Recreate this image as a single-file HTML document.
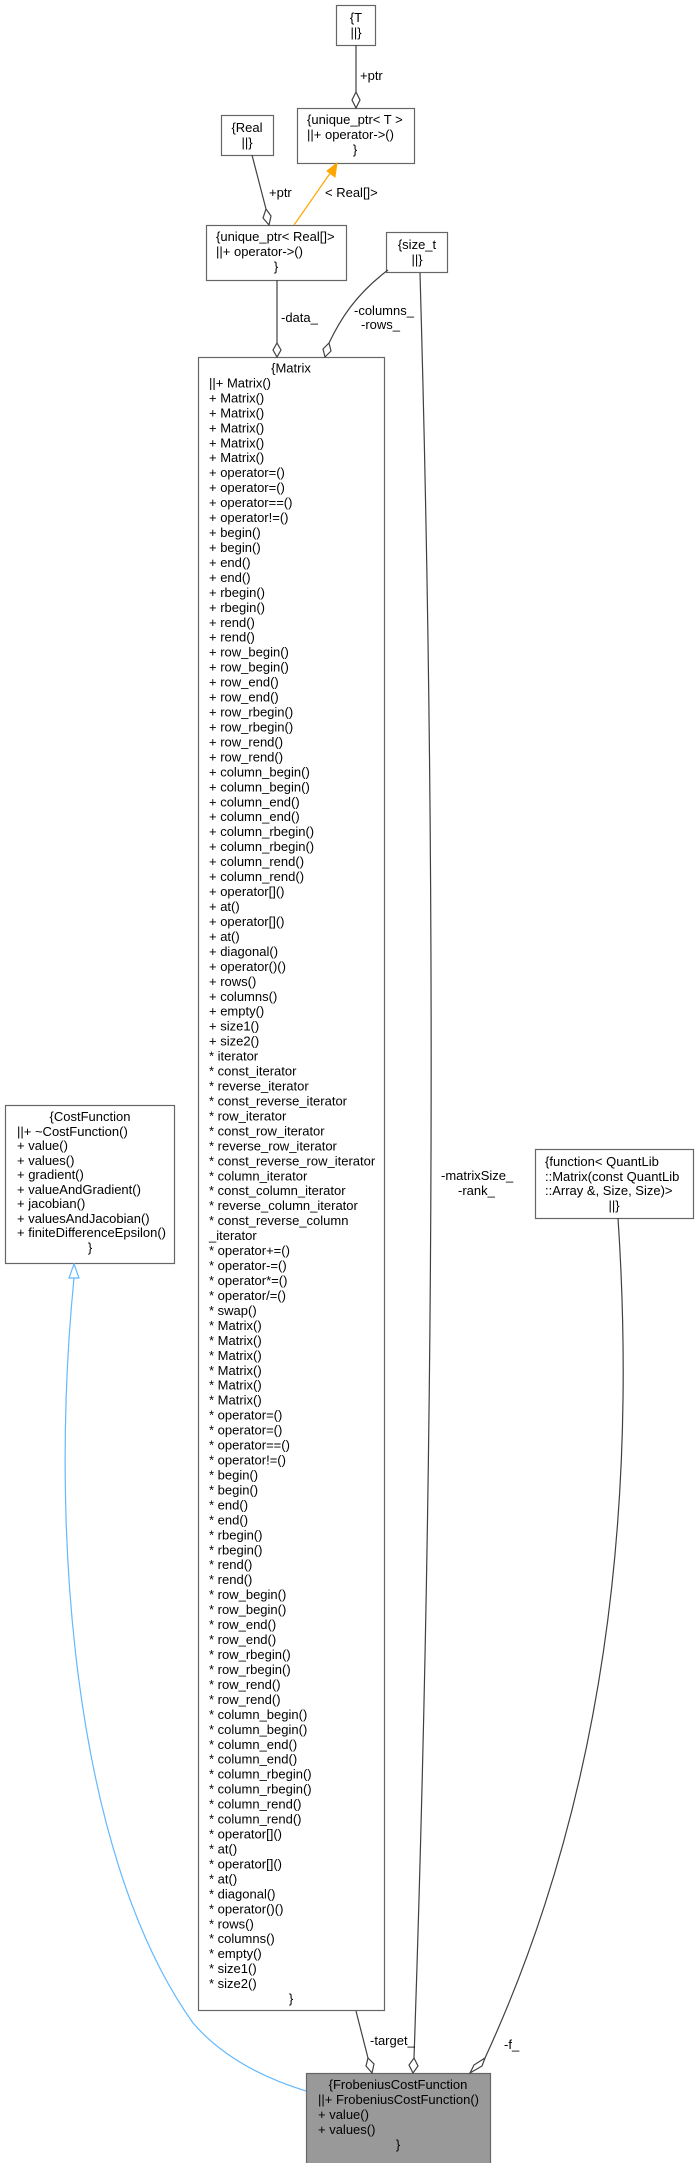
<!DOCTYPE html>
<html><head><meta charset="utf-8"><style>
html,body{margin:0;padding:0;background:#fff;}
svg{display:block;}
text{font-family:"Liberation Sans",Arial,sans-serif;font-size:13px;fill:#000;}
</style></head><body>
<svg width="699" height="2163" viewBox="0 0 699 2163" xmlns="http://www.w3.org/2000/svg">
<g fill="#fff" stroke="#666" stroke-width="1.2">
<rect x="336.5" y="5.5" width="39" height="40"/>
<rect x="297.5" y="108.5" width="117" height="55"/>
<rect x="221.5" y="115.5" width="52" height="40"/>
<rect x="206.5" y="225.5" width="140" height="55"/>
<rect x="386.5" y="232.5" width="61" height="40"/>
<rect x="198.5" y="357.5" width="186" height="1653"/>
<rect x="5.5" y="1105.5" width="169" height="158"/>
<rect x="535.5" y="1149.5" width="158" height="69"/>
<rect x="306.5" y="2073.5" width="184" height="95" fill="#999"/>
</g>
<!-- edges -->
<g fill="none" stroke="#404040" stroke-width="1.2">
<path d="M356,45 L356,92"/>
<path d="M252,155 L266,209"/>
<path d="M277,280 L277,343"/>
<path d="M388,270 C355,295 340,320 329,343"/>
<path d="M420,273 Q445,1150 414,2058"/>
<path d="M618,1218 Q650,1700 485,2058"/>
<path d="M356,2011 L368,2058"/>
</g>
<g fill="#fff" stroke="#404040" stroke-width="1.2">
<path d="M356,92 L360,100 L356,108 L352,100 Z"/>
<path d="M266,209 L271,216 L269,225 L263,218 Z"/>
<path d="M277,343 L281,350 L277,357 L273,350 Z"/>
<path d="M329,343 L331,351 L325,357 L323,349 Z"/>
<path d="M414,2058 L418,2066 L413,2073 L409,2065 Z"/>
<path d="M485,2058 L482,2066 L470,2073 L474,2065 Z"/>
<path d="M368,2058 L374,2064 L372,2073 L366,2066 Z"/>
</g>
<path d="M294,225 L331,172" stroke="#ffa500" stroke-width="1.2" fill="none"/>
<path d="M337,163 L335,177 L327,171 Z" fill="#ffa500" stroke="#ffa500"/>
<path d="M74,1278 C50,1520 70,1850 193,2023 C225,2060 270,2080 306,2091" stroke="#63b8ff" stroke-width="1.2" fill="none"/>
<path d="M74,1264 L79,1278 L69,1278 Z" fill="#fff" stroke="#63b8ff" stroke-width="1.2"/>
<!-- edge labels -->
<text x="360" y="80">+ptr</text>
<text x="269" y="197">+ptr</text>
<text x="325" y="197">&lt; Real[]&gt;</text>
<text x="281" y="322">-data_</text>
<text x="354" y="315">-columns_</text>
<text x="361" y="329">-rows_</text>
<text x="441" y="1180">-matrixSize_</text>
<text x="458" y="1195">-rank_</text>
<text x="370" y="2045">-target_</text>
<text x="504" y="2049">-f_</text>
<!-- small boxes -->
<text x="356" y="22" text-anchor="middle">{T</text>
<text x="356" y="37" text-anchor="middle">||}</text>
<text x="247" y="132" text-anchor="middle">{Real</text>
<text x="247" y="147" text-anchor="middle">||}</text>
<text x="307" y="124">{unique_ptr&lt; T &gt;</text>
<text x="307" y="139">||+ operator-&gt;()</text>
<text x="355" y="154" text-anchor="middle">}</text>
<text x="216" y="241">{unique_ptr&lt; Real[]&gt;</text>
<text x="216" y="256">||+ operator-&gt;()</text>
<text x="276" y="271" text-anchor="middle">}</text>
<text x="417" y="249" text-anchor="middle">{size_t</text>
<text x="417" y="264" text-anchor="middle">||}</text>
<text x="545" y="1166">{function&lt; QuantLib</text>
<text x="545" y="1181">::Matrix(const QuantLib</text>
<text x="545" y="1195">::Array &amp;, Size, Size)&gt;</text>
<text x="614" y="1210" text-anchor="middle">||}</text>
<!-- CostFunction -->
<text x="90" y="1121" text-anchor="middle">{CostFunction</text>
<text x="17" y="1136">||+ ~CostFunction()</text>
<text x="17" y="1150">+ value()</text>
<text x="17" y="1165">+ values()</text>
<text x="17" y="1179">+ gradient()</text>
<text x="17" y="1194">+ valueAndGradient()</text>
<text x="17" y="1208">+ jacobian()</text>
<text x="17" y="1223">+ valuesAndJacobian()</text>
<text x="17" y="1237">+ finiteDifferenceEpsilon()</text>
<text x="90" y="1252" text-anchor="middle">}</text>
<!-- Frobenius -->
<text x="398" y="2089" text-anchor="middle">{FrobeniusCostFunction</text>
<text x="318" y="2104">||+ FrobeniusCostFunction()</text>
<text x="318" y="2119">+ value()</text>
<text x="318" y="2134">+ values()</text>
<text x="398" y="2149" text-anchor="middle">}</text>
<!-- Matrix -->
<text x="291" y="372.5" text-anchor="middle">{Matrix</text>
<g>
<text x="209" y="387.4">||+ Matrix()</text>
<text x="209" y="402.4">+ Matrix()</text>
<text x="209" y="417.3">+ Matrix()</text>
<text x="209" y="432.3">+ Matrix()</text>
<text x="209" y="447.3">+ Matrix()</text>
<text x="209" y="462.2">+ Matrix()</text>
<text x="209" y="477.2">+ operator=()</text>
<text x="209" y="492.1">+ operator=()</text>
<text x="209" y="507.1">+ operator==()</text>
<text x="209" y="522.1">+ operator!=()</text>
<text x="209" y="537.0">+ begin()</text>
<text x="209" y="552.0">+ begin()</text>
<text x="209" y="566.9">+ end()</text>
<text x="209" y="581.9">+ end()</text>
<text x="209" y="596.8">+ rbegin()</text>
<text x="209" y="611.8">+ rbegin()</text>
<text x="209" y="626.8">+ rend()</text>
<text x="209" y="641.7">+ rend()</text>
<text x="209" y="656.7">+ row_begin()</text>
<text x="209" y="671.6">+ row_begin()</text>
<text x="209" y="686.6">+ row_end()</text>
<text x="209" y="701.6">+ row_end()</text>
<text x="209" y="716.5">+ row_rbegin()</text>
<text x="209" y="731.5">+ row_rbegin()</text>
<text x="209" y="746.4">+ row_rend()</text>
<text x="209" y="761.4">+ row_rend()</text>
<text x="209" y="776.4">+ column_begin()</text>
<text x="209" y="791.3">+ column_begin()</text>
<text x="209" y="806.3">+ column_end()</text>
<text x="209" y="821.2">+ column_end()</text>
<text x="209" y="836.2">+ column_rbegin()</text>
<text x="209" y="851.2">+ column_rbegin()</text>
<text x="209" y="866.1">+ column_rend()</text>
<text x="209" y="881.1">+ column_rend()</text>
<text x="209" y="896.0">+ operator[]()</text>
<text x="209" y="911.0">+ at()</text>
<text x="209" y="926.0">+ operator[]()</text>
<text x="209" y="940.9">+ at()</text>
<text x="209" y="955.9">+ diagonal()</text>
<text x="209" y="970.8">+ operator()()</text>
<text x="209" y="985.8">+ rows()</text>
<text x="209" y="1000.8">+ columns()</text>
<text x="209" y="1015.7">+ empty()</text>
<text x="209" y="1030.7">+ size1()</text>
<text x="209" y="1045.6">+ size2()</text>
<text x="209" y="1060.6">* iterator</text>
<text x="209" y="1075.6">* const_iterator</text>
<text x="209" y="1090.5">* reverse_iterator</text>
<text x="209" y="1105.5">* const_reverse_iterator</text>
<text x="209" y="1120.4">* row_iterator</text>
<text x="209" y="1135.4">* const_row_iterator</text>
<text x="209" y="1150.4">* reverse_row_iterator</text>
<text x="209" y="1165.3">* const_reverse_row_iterator</text>
<text x="209" y="1180.3">* column_iterator</text>
<text x="209" y="1195.2">* const_column_iterator</text>
<text x="209" y="1210.2">* reverse_column_iterator</text>
<text x="209" y="1225.2">* const_reverse_column</text>
<text x="209" y="1240.1">_iterator</text>
<text x="209" y="1255.1">* operator+=()</text>
<text x="209" y="1270.0">* operator-=()</text>
<text x="209" y="1285.0">* operator*=()</text>
<text x="209" y="1300.0">* operator/=()</text>
<text x="209" y="1314.9">* swap()</text>
<text x="209" y="1329.9">* Matrix()</text>
<text x="209" y="1344.8">* Matrix()</text>
<text x="209" y="1359.8">* Matrix()</text>
<text x="209" y="1374.8">* Matrix()</text>
<text x="209" y="1389.7">* Matrix()</text>
<text x="209" y="1404.7">* Matrix()</text>
<text x="209" y="1419.6">* operator=()</text>
<text x="209" y="1434.6">* operator=()</text>
<text x="209" y="1449.6">* operator==()</text>
<text x="209" y="1464.5">* operator!=()</text>
<text x="209" y="1479.5">* begin()</text>
<text x="209" y="1494.4">* begin()</text>
<text x="209" y="1509.4">* end()</text>
<text x="209" y="1524.4">* end()</text>
<text x="209" y="1539.3">* rbegin()</text>
<text x="209" y="1554.3">* rbegin()</text>
<text x="209" y="1569.2">* rend()</text>
<text x="209" y="1584.2">* rend()</text>
<text x="209" y="1599.2">* row_begin()</text>
<text x="209" y="1614.1">* row_begin()</text>
<text x="209" y="1629.1">* row_end()</text>
<text x="209" y="1644.0">* row_end()</text>
<text x="209" y="1659.0">* row_rbegin()</text>
<text x="209" y="1674.0">* row_rbegin()</text>
<text x="209" y="1688.9">* row_rend()</text>
<text x="209" y="1703.9">* row_rend()</text>
<text x="209" y="1718.8">* column_begin()</text>
<text x="209" y="1733.8">* column_begin()</text>
<text x="209" y="1748.8">* column_end()</text>
<text x="209" y="1763.7">* column_end()</text>
<text x="209" y="1778.7">* column_rbegin()</text>
<text x="209" y="1793.6">* column_rbegin()</text>
<text x="209" y="1808.6">* column_rend()</text>
<text x="209" y="1823.6">* column_rend()</text>
<text x="209" y="1838.5">* operator[]()</text>
<text x="209" y="1853.5">* at()</text>
<text x="209" y="1868.4">* operator[]()</text>
<text x="209" y="1883.4">* at()</text>
<text x="209" y="1898.4">* diagonal()</text>
<text x="209" y="1913.3">* operator()()</text>
<text x="209" y="1928.3">* rows()</text>
<text x="209" y="1943.2">* columns()</text>
<text x="209" y="1958.2">* empty()</text>
<text x="209" y="1973.2">* size1()</text>
<text x="209" y="1988.1">* size2()</text>
<text x="291" y="2003.1" text-anchor="middle">}</text>
</g>
</svg>
</body></html>
